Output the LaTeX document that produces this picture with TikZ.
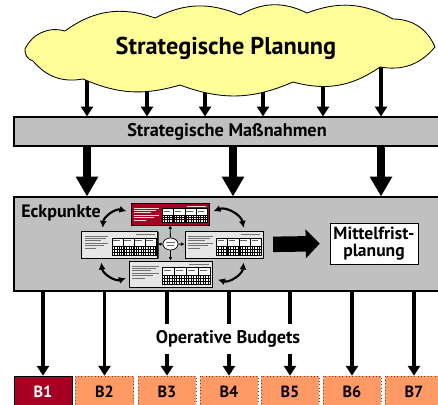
\documentclass[tikz,border=0pt]{standalone}
\usepackage{fontspec}
\setmainfont{PT Sans}
\usetikzlibrary{arrows.meta,shapes.geometric,backgrounds,shadows}
\definecolor{wolkengelb}{HTML}{FFFF99}
\definecolor{grau}{HTML}{C0C0C0}
\definecolor{hellgrau}{HTML}{E6E6E6}
\definecolor{dunkelrot}{HTML}{A50021}
\definecolor{lachs}{HTML}{FF9966}
\tikzset{
  pfeil/.style={line width=2.2pt, -{Triangle[width=8.5pt,length=7pt]}},
  dickpfeil/.style={line width=5pt, -{Triangle[width=15pt,length=14pt]}},
  balken/.style={draw, line width=.8pt, fill=grau, inner sep=0pt, minimum width=10.65cm},
  budget/.style={draw=black!70, dotted, fill=lachs, minimum width=1.45cm, minimum height=.8cm,
    inner sep=0pt, font=\bfseries\fontsize{11.5}{13}\selectfont},
  kasten/.style={draw, line width=.4pt, inner sep=0pt,
    drop shadow={shadow xshift=.8pt, shadow yshift=-.8pt, fill=black!75, opacity=1}},
  kreispfeil/.style={line width=1.5pt, {Latex[length=5pt,width=5pt]}-{Latex[length=5pt,width=5pt]}},
  minipfeil/.style={line width=.6pt, -{Latex[length=2.5pt,width=2.5pt]}},
}
% kleiner Kasten: Name, x, y, Breite, Hoehe, Fuellung, Textfarbe
\newcommand{\kasten}[7]{%
  \node[kasten, fill=#6, minimum width=#4*0.025cm, minimum height=#5*0.025cm] (#1) at (#2,#3) {};
  \foreach \k/\l in {0/1,1/.9,2/.7,3/1,4/.8,5/.5}
    \draw[#7, line width=.5pt] ({#2-0.5*#4+3},{#3-0.5*#5+5+2.4*\k}) -- ({#2-0.5*#4+3+\l*(0.38*#4-5)},{#3-0.5*#5+5+2.4*\k});
  \draw[#7, line width=.6pt] ({#2+0.22*#4},{#3-0.5*#5+3}) -- ({#2+0.5*#4-3},{#3-0.5*#5+3});
  \draw[fill=white, line width=.3pt] ({#2-0.1*#4},{#3-0.25*#5}) rectangle ({#2+0.5*#4-1.5},{#3+0.5*#5-2.5});
  \foreach \c in {1,2,3}
    \draw[line width=.5pt] ({#2-0.1*#4+\c*(0.6*#4-1.5)/4},{#3-0.25*#5}) -- ({#2-0.1*#4+\c*(0.6*#4-1.5)/4},{#3+0.5*#5-2.5});
  \foreach \c in {0,1,2,3}
    \draw[black!60, line width=.4pt] ({#2-0.1*#4+\c*(0.6*#4-1.5)/4+1.5},{#3-0.25*#5+3}) -- ({#2-0.1*#4+(\c+.7)*(0.6*#4-1.5)/4},{#3-0.25*#5+3});
  \foreach \r in {0,1,2,3}
    \draw[line width=.3pt] ({#2-0.1*#4},{#3-0.25*#5+(0.45+0.17*\r)*(0.75*#5-2.5)}) -- ({#2+0.5*#4-1.5},{#3-0.25*#5+(0.45+0.17*\r)*(0.75*#5-2.5)});
  \pgfmathtruncatemacro{\nspalten}{(0.6*#4-1.5)/2.4}
  \foreach \c in {1,...,\nspalten}
    \draw[line width=.25pt] ({#2-0.1*#4+2.4*\c},{#3-0.25*#5+0.45*(0.75*#5-2.5)}) -- ({#2-0.1*#4+2.4*\c},{#3+0.5*#5-2.5});
}

\begin{document}
\begin{tikzpicture}[x=.025cm, y=-.025cm]
\useasboundingbox (0,0) rectangle (438,405);

% Wolke
\draw[fill=wolkengelb, line width=.6pt] (25,49) to[bend left=40] (65,31) to[bend left=28] (155,18)
  to[bend left=25] (240,15) to[bend left=28] (307,13) to[bend left=25] (393,19)
  to[bend left=33] (435,47) to[bend left=30] (380,67) to[bend left=25] (293,82)
  to[bend left=22] (180,85) to[bend left=20] (83,79) to[bend left=30] (33,61) to[bend left=40] cycle;
\node[font=\bfseries\fontsize{17.3}{19}\selectfont] (wolke) at (226,48) {Strategische Planung};

\node[balken, minimum height=.725cm, font=\bfseries\fontsize{13}{15}\selectfont] (massn) at (227,131.5) {Strategische Maßnahmen};
\node[balken, minimum height=2.35cm] (eck) at (227,244) {};

\begin{scope}[on background layer]
\foreach \x in {87,147,205,263,323,381}
  \draw[pfeil] (wolke.center -| \x,0) -- (massn.north -| \x,0);
\end{scope}

\foreach \x in {87,233,381}
  \draw[dickpfeil] (massn.south -| \x,0) -- (eck.north -| \x,0);

\node[anchor=west, inner sep=0pt, font=\bfseries\fontsize{12.8}{14}\selectfont] (eckt) at (21,213) {Eckpunkte};

% Eckpunkte-Kreislauf
\kasten{oben}{170}{214}{78}{22}{dunkelrot}{white!85!dunkelrot}
\kasten{links}{119.5}{244.5}{76}{27}{hellgrau}{black!55}
\kasten{rechts}{224}{244.5}{78}{27}{hellgrau}{black!55}
\kasten{unten}{170.5}{274}{83}{26}{hellgrau}{black!55}
\node[draw, ellipse, fill=white, line width=.5pt, minimum width=.375cm, minimum height=.3cm, inner sep=0pt] (mitte) at (170.5,244) {};
\draw[black!60, line width=.4pt] (166,242) -- (175,242) (167,245) -- (174,245);

\draw[minipfeil] (mitte) -- (oben);
\draw[minipfeil] (mitte) -- (unten);
\draw[minipfeil] (mitte) -- (links);
\draw[minipfeil] (mitte) -- (rechts);

\draw[kreispfeil] ([xshift=-12pt,yshift=2pt]links.north) to[bend left=50] ([xshift=-3pt,yshift=2pt]oben.west);
\draw[kreispfeil] ([xshift=3pt,yshift=2pt]oben.east) to[bend left=50] ([xshift=14pt,yshift=2pt]rechts.north);
\draw[kreispfeil] ([xshift=14pt,yshift=-3pt]rechts.south) to[bend left=50] ([xshift=4pt,yshift=-4pt]unten.east);
\draw[kreispfeil] ([xshift=-2pt,yshift=-3pt]unten.west) to[bend left=50] ([xshift=-13pt,yshift=-3pt]links.south);

\node[draw, fill=white, line width=.6pt, minimum width=2.2cm, minimum height=1.025cm, inner sep=0pt,
  align=center, font=\bfseries\fontsize{12.5}{12}\selectfont] (mittel) at (374,243.5) {Mittelfrist-\\planung};
\draw[line width=11pt, -{Triangle[width=20pt,length=10pt]}, shorten <=7pt, shorten >=7pt] (rechts.east) -- (mittel.west);

% Budgets
\foreach \i/\x in {1/43,2/104.5,3/167,4/229,5/290,6/352,7/414}
  \node[budget] (b\i) at (\x,392) {B\i};
\node[budget, draw=black, solid, fill=dunkelrot, text=white] at (b1) {B1};

\foreach \i in {1,...,7}
  \draw[pfeil] (eck.south -| b\i) -- (b\i.north);

\node[fill=white, minimum height=.75cm, inner sep=2pt, font=\bfseries\fontsize{13}{15}\selectfont] (opb) at (228,339) {Operative Budgets};

\end{tikzpicture}
\end{document}
